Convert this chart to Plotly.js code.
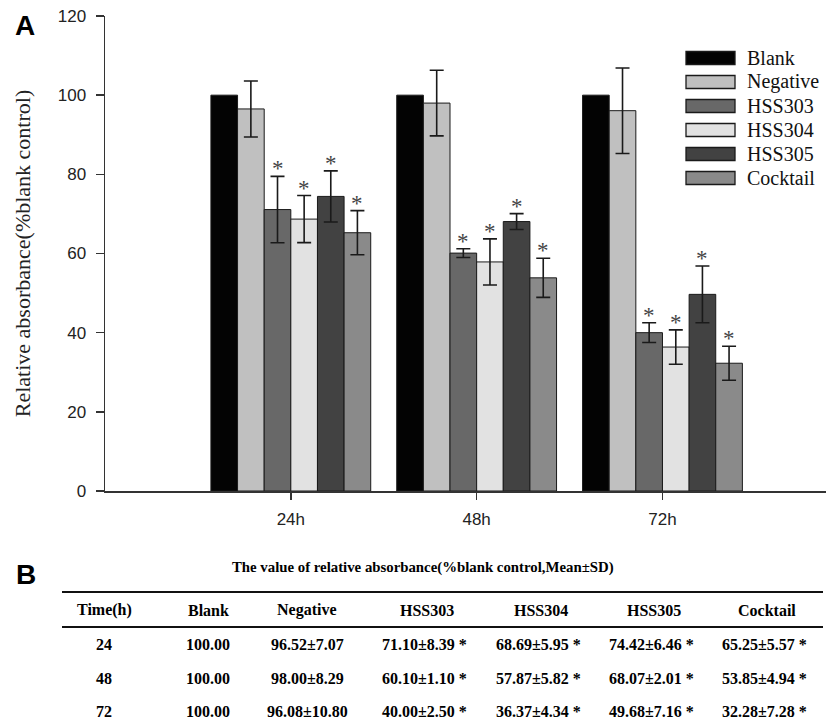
<!DOCTYPE html>
<html>
<head>
<meta charset="utf-8">
<script src="https://cdn.plot.ly/plotly-3.0.1.min.js"></script>
<style>
html,body{margin:0;padding:0;background:#fff;}
#chart{width:828px;height:724px;}
</style>
</head>
<body>
<div id="chart"></div>
<script>
// ---------- data ----------
const categories = ['24h', '48h', '72h'];
const timeLabels = ['24', '48', '72'];
const seriesNames = ['Blank', 'Negative', 'HSS303', 'HSS304', 'HSS305', 'Cocktail'];
const blankMean = [100.00, 100.00, 100.00];
const negativeMean = [96.52, 98.00, 96.08];
const negativeSD = [7.07, 8.29, 10.80];
const hss303Mean = [71.10, 60.10, 40.00];
const hss303SD = [8.39, 1.10, 2.50];
const hss304Mean = [68.69, 57.87, 36.37];
const hss304SD = [5.95, 5.82, 4.34];
const hss305Mean = [74.42, 68.07, 49.68];
const hss305SD = [6.46, 2.01, 7.16];
const cocktailMean = [65.25, 53.85, 32.28];
const cocktailSD = [5.57, 4.94, 7.28];          // as printed in the table
const cocktailPlotSD = [5.57, 4.94, 4.30];      // as drawn in the bar chart
const significant = [false, false, true, true, true, true];
const yTicks = [0, 20, 40, 60, 80, 100, 120];

const means = [blankMean, negativeMean, hss303Mean, hss304Mean, hss305Mean, cocktailMean];
const tableSDs = [null, negativeSD, hss303SD, hss304SD, hss305SD, cocktailSD];
const plotSDs = [null, negativeSD, hss303SD, hss304SD, hss305SD, cocktailPlotSD];
const colors = ['#030303', '#c0c0c0', '#686868', '#e2e2e2', '#424242', '#8a8a8a'];

const SERIF = "'Liberation Serif', 'Times New Roman', serif";
const SANS = "'Liberation Sans', Arial, sans-serif";

// ---------- geometry helpers (pixel -> paper) ----------
const L = 105, T = 16, W = 721, H = 475;
const px = x => (x - L) / W;
const py = y => (T + H - y) / H;

const bargap = 0.14;
const nS = seriesNames.length;
const barW = (1 - bargap) / nS;

const traces = seriesNames.map((name, j) => {
  const t = {
    type: 'bar', name: name, x: categories, y: means[j],
    marker: {color: colors[j], line: {color: '#1a1a1a', width: 1}},
    showlegend: false, hoverinfo: 'x+y+name'
  };
  if (plotSDs[j]) {
    t.error_y = {type: 'data', array: plotSDs[j], visible: true, color: '#1a1a1a', thickness: 1.6, width: 7};
  }
  return t;
});

const annotations = [];
const shapes = [];

// asterisks above the error bars
seriesNames.forEach((name, j) => {
  if (!significant[j]) return;
  categories.forEach((c, i) => {
    annotations.push({
      xref: 'x', yref: 'y',
      x: i - (1 - bargap) / 2 + (j + 0.5) * barW,
      y: means[j][i] + plotSDs[j][i],
      text: '*', showarrow: false, yanchor: 'bottom', yshift: -7,
      font: {family: SERIF, size: 23, color: '#444'}
    });
  });
});

// panel labels
annotations.push({xref: 'paper', yref: 'paper', x: px(24.5), y: py(26), text: '<b>A</b>', showarrow: false,
  xanchor: 'center', yanchor: 'middle', font: {family: SANS, size: 28, color: '#000'}});
annotations.push({xref: 'paper', yref: 'paper', x: px(26), y: py(574), text: '<b>B</b>', showarrow: false,
  xanchor: 'center', yanchor: 'middle', font: {family: SANS, size: 28, color: '#000'}});

// custom legend
seriesNames.forEach((name, j) => {
  const yc = 58 + 24 * j;
  shapes.push({type: 'rect', xref: 'paper', yref: 'paper', x0: px(686), x1: px(735), y0: py(yc - 6.5), y1: py(yc + 6.5),
    fillcolor: colors[j], line: {color: '#1a1a1a', width: 1.3}});
  annotations.push({xref: 'paper', yref: 'paper', x: px(745), y: py(yc), text: name, showarrow: false,
    xanchor: 'left', yanchor: 'middle', font: {family: SERIF, size: 20, color: '#111'}});
});

// ---------- table (panel B) ----------
const tFont = {family: SERIF, size: 16, color: '#000'};
annotations.push({xref: 'paper', yref: 'paper', x: px(423), y: py(567),
  text: '<b>The value of relative absorbance(%blank control,Mean±SD)</b>', showarrow: false,
  xanchor: 'center', yanchor: 'middle', font: {family: SERIF, size: 14.8, color: '#000'}});
shapes.push({type: 'line', xref: 'paper', yref: 'paper', x0: px(62), x1: px(823), y0: py(592), y1: py(592), line: {color: '#111', width: 2}});
shapes.push({type: 'line', xref: 'paper', yref: 'paper', x0: px(62), x1: px(823), y0: py(627), y1: py(627), line: {color: '#111', width: 2}});

const colX = [104, 208, 307, 427, 541, 654, 767];
const headers = ['Time(h)'].concat(seriesNames);
headers.forEach((h, k) => {
  annotations.push({xref: 'paper', yref: 'paper', x: px(colX[k]), y: py(610), text: '<b>' + h + '</b>', showarrow: false,
    xanchor: 'center', yanchor: 'middle', font: tFont});
});
const rowY = [644, 678, 711];
timeLabels.forEach((tl, i) => {
  annotations.push({xref: 'paper', yref: 'paper', x: px(colX[0]), y: py(rowY[i]), text: '<b>' + tl + '</b>', showarrow: false,
    xanchor: 'center', yanchor: 'middle', font: tFont});
  seriesNames.forEach((name, j) => {
    let txt = means[j][i].toFixed(2);
    if (tableSDs[j]) txt += '±' + tableSDs[j][i].toFixed(2);
    if (significant[j]) txt += ' *';
    annotations.push({xref: 'paper', yref: 'paper', x: px(colX[j + 1] - (significant[j] ? 3 : 0)), y: py(rowY[i]),
      text: '<b>' + txt + '</b>', showarrow: false, xanchor: 'center', yanchor: 'middle', font: tFont});
  });
});

const layout = {
  width: 828, height: 724,
  margin: {l: L, r: 828 - L - W, t: T, b: 724 - T - H},
  paper_bgcolor: '#fff', plot_bgcolor: '#fff',
  barmode: 'group', bargap: bargap, bargroupgap: 0,
  showlegend: false,
  xaxis: {
    type: 'category', range: [-1, 2.88], showgrid: false, zeroline: false,
    showline: true, linecolor: '#333', linewidth: 1.5,
    ticks: 'outside', ticklen: 7, tickwidth: 1.5, tickcolor: '#333',
    ticklabelstandoff: 5,
    tickfont: {family: SANS, size: 17, color: '#222'}
  },
  yaxis: {
    range: [0, 120], tickvals: yTicks, showgrid: false, zeroline: false,
    showline: true, linecolor: '#333', linewidth: 1.5,
    ticks: 'outside', ticklen: 8, tickwidth: 1.5, tickcolor: '#333',
    ticklabelstandoff: 6,
    tickfont: {family: SANS, size: 17, color: '#222'},
    title: {text: 'Relative absorbance(%blank control)', standoff: 21,
      font: {family: SERIF, size: 22, color: '#222'}}
  },
  annotations: annotations,
  shapes: shapes
};

Plotly.newPlot('chart', traces, layout, {displayModeBar: false, staticPlot: true});
</script>
</body>
</html>
